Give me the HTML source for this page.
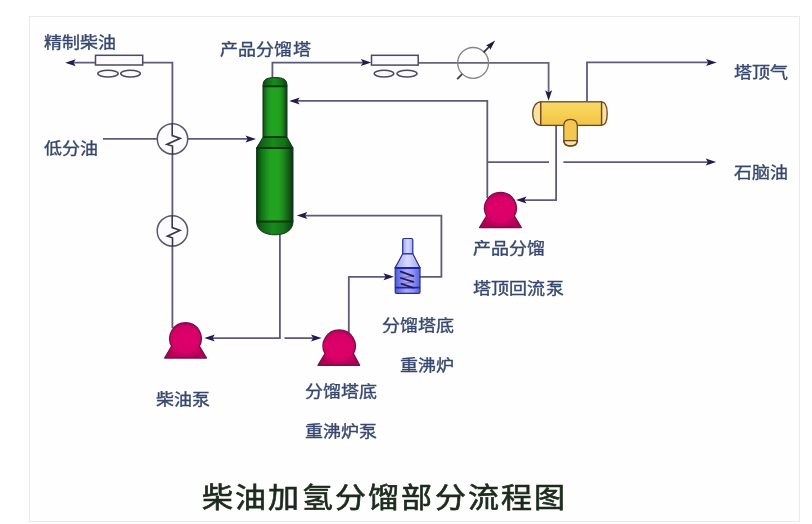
<!DOCTYPE html>
<html lang="zh-CN"><head><meta charset="utf-8">
<title>柴油加氢分馏部分流程图</title>
<style>
html,body{margin:0;padding:0;background:#fff;width:812px;height:524px;overflow:hidden}
svg{position:absolute;left:0;top:0;filter:blur(0.4px)}
.lbl{font-family:"Liberation Sans",sans-serif;font-size:18px;fill:#37476d;font-weight:normal;stroke:#37476d;stroke-width:0.4px}
.ttl{font-family:"Liberation Serif",serif;font-size:31px;letter-spacing:2.1px;fill:#1d2a1d;font-weight:normal;stroke:#1d2a1d;stroke-width:0.7px}
</style></head>
<body>
<svg width="812" height="524" viewBox="0 0 812 524">
<defs>
 <linearGradient id="grn" x1="0" x2="1" y1="0" y2="0">
  <stop offset="0" stop-color="#0b3418"/>
  <stop offset="0.05" stop-color="#0c4e14"/>
  <stop offset="0.13" stop-color="#107016"/>
  <stop offset="0.27" stop-color="#1c921d"/>
  <stop offset="0.37" stop-color="#22a221"/>
  <stop offset="0.6" stop-color="#22a31f"/>
  <stop offset="0.72" stop-color="#1d8c1d"/>
  <stop offset="0.84" stop-color="#156a18"/>
  <stop offset="0.93" stop-color="#0f4c16"/>
  <stop offset="1" stop-color="#16281c"/>
 </linearGradient>
 <linearGradient id="grnN" x1="0" x2="1" y1="0" y2="0">
  <stop offset="0" stop-color="#123c1c"/>
  <stop offset="0.07" stop-color="#166a1a"/>
  <stop offset="0.2" stop-color="#1e941e"/>
  <stop offset="0.35" stop-color="#22a321"/>
  <stop offset="0.65" stop-color="#22a31f"/>
  <stop offset="0.8" stop-color="#1d8c1d"/>
  <stop offset="0.92" stop-color="#145c18"/>
  <stop offset="1" stop-color="#123a1a"/>
 </linearGradient>
 <linearGradient id="grnCap" x1="0" x2="1" y1="0" y2="0">
  <stop offset="0" stop-color="#0c3e14"/>
  <stop offset="0.15" stop-color="#136418"/>
  <stop offset="0.45" stop-color="#1a8a1c"/>
  <stop offset="0.75" stop-color="#157218"/>
  <stop offset="1" stop-color="#0c3a12"/>
 </linearGradient>
 <linearGradient id="yel" x1="0" x2="0" y1="0" y2="1">
  <stop offset="0" stop-color="#f8d868"/>
  <stop offset="0.5" stop-color="#f7d052"/>
  <stop offset="1" stop-color="#f0c24a"/>
 </linearGradient>
 <radialGradient id="mag" cx="0.5" cy="0.5" r="0.5">
  <stop offset="0" stop-color="#e2006c"/>
  <stop offset="0.75" stop-color="#d60066"/>
  <stop offset="1" stop-color="#b00054"/>
 </radialGradient>
 <linearGradient id="blu" x1="0" x2="1" y1="0" y2="0">
  <stop offset="0" stop-color="#4e58d8"/>
  <stop offset="0.45" stop-color="#a4aaff"/>
  <stop offset="0.7" stop-color="#8e96f8"/>
  <stop offset="1" stop-color="#5860e0"/>
 </linearGradient>
 <linearGradient id="lblu" x1="0" x2="1" y1="0" y2="0">
  <stop offset="0" stop-color="#9aa2f0"/>
  <stop offset="0.5" stop-color="#d6daff"/>
  <stop offset="1" stop-color="#a2aaf4"/>
 </linearGradient>
</defs>

<!-- frame -->
<rect x="29.5" y="16.5" width="770" height="505" fill="#fefefe" stroke="#ebe9e6" stroke-width="1"/>

<!-- process lines -->
<g fill="none" stroke="#5f5a7a" stroke-width="1.8">
 <path d="M172.4,328 L172.4,62.7 L73,62.7"/>
 <path d="M103,138.9 L248.2,138.9"/>
 <path d="M272.4,78 L272.4,62.6 L363.5,62.6"/>
 <path d="M418,62.8 L548.6,62.8 L548.6,93" stroke="#66637a"/>
 <path d="M587,101.8 L587,62.4 L708.8,62.4"/>
 <path d="M556.1,125.4 L556.1,200.1 L523.8,200.1"/>
 <path d="M487.3,198 L487.3,100.9 L297,100.9"/>
 <path d="M488,162.1 L549,162.1"/>
 <path d="M563.4,162.1 L708.4,162.1"/>
 <path d="M279.9,234.5 L279.9,338.1 L212.1,338.1"/>
 <path d="M284.5,338.1 L313.7,338.1"/>
 <path d="M348.8,334.7 L348.8,276.8 L386.2,276.8"/>
 <path d="M420,276.8 L441.4,276.8 L441.4,215.6 L304.6,215.6"/>
</g>
<path fill="#231b4e" d="M65.20,62.70 L75.70,59.20 L73.50,62.70 L75.70,66.20 Z M256.00,138.90 L245.50,142.40 L247.70,138.90 L245.50,135.40 Z M371.30,62.60 L360.80,66.10 L363.00,62.60 L360.80,59.10 Z M548.60,100.80 L545.10,90.30 L548.60,92.50 L552.10,90.30 Z M716.60,62.40 L706.10,65.90 L708.30,62.40 L706.10,58.90 Z M516.00,200.10 L526.50,196.60 L524.30,200.10 L526.50,203.60 Z M289.20,100.90 L299.70,97.40 L297.50,100.90 L299.70,104.40 Z M716.20,162.10 L705.70,165.60 L707.90,162.10 L705.70,158.60 Z M204.30,338.10 L214.80,334.60 L212.60,338.10 L214.80,341.60 Z M321.50,338.10 L311.00,341.60 L313.20,338.10 L311.00,334.60 Z M394.00,276.80 L383.50,280.30 L385.70,276.80 L383.50,273.30 Z M296.80,215.60 L307.30,212.10 L305.10,215.60 L307.30,219.10 Z"/>

<!-- air coolers -->
<g stroke="#4e4a5e" stroke-width="1.5" fill="#fbfaff">
 <rect x="95.5" y="55.3" width="47.2" height="9.7"/>
 <ellipse cx="108" cy="73.6" rx="10.2" ry="3.4"/>
 <ellipse cx="130.5" cy="73.6" rx="9.8" ry="3.4"/>
 <rect x="371.5" y="55.3" width="46.7" height="9.8"/>
 <ellipse cx="384" cy="73.6" rx="9.8" ry="3.4"/>
 <ellipse cx="407" cy="73.6" rx="10" ry="3.4"/>
</g>

<!-- heat exchangers -->
<g fill="#fcfbff" stroke="#5c586c" stroke-width="1.5">
 <circle cx="172.5" cy="138.9" r="15.2"/>
 <circle cx="172.4" cy="230.9" r="15.2"/>
</g>
<g fill="none" stroke="#3a3452" stroke-width="1.6" stroke-linejoin="miter">
 <path d="M172.2,123 V135.6 L180.2,138.3 L166.8,144.4 L172.5,146.1 V155"/>
 <path d="M172.2,215 V227.6 L180,230.3 L167.4,236.2 L172.5,237.8 V247"/>
</g>

<!-- cooler circle with diagonal arrow -->
<circle cx="473.1" cy="62.9" r="15.4" fill="none" stroke="#858585" stroke-width="1.3"/>
<path d="M457.2,79.1 L462,74.2" stroke="#3c3a48" stroke-width="1.8" fill="none"/>
<path d="M483.6,52.3 L489.5,46.3" stroke="#2e2a40" stroke-width="1.7" fill="none"/>
<path d="M495.2,40.6 L486.04,45.62 L489.1,46.8 L490.32,49.83 Z" fill="#1f1b3a"/>

<!-- column -->
<g stroke="#0b3a14" stroke-width="1">
 <rect x="263" y="86" width="24" height="51.2" fill="url(#grnN)"/>
 <rect x="256.6" y="148" width="36.4" height="73.5" fill="url(#grn)"/>
 <path d="M263,137.2 L256.6,148 H293 L287,137.2 Z" fill="url(#grnCap)"/>
 <path d="M263,86.3 C263,79.4 266,77.6 275,77.6 C284,77.6 287,79.4 287,86.3 Z" fill="url(#grnCap)"/>
 <path d="M256.6,221.5 C256.6,230.5 265,234.8 275,234.8 C285,234.8 293,230.5 293,221.5 Z" fill="url(#grnCap)"/>
 <path d="M263,86.3 H287 M263,137.2 H287 M256.6,148 H293 M256.6,221.5 H293" stroke="#0a380e" stroke-width="1.8" fill="none"/>
</g>

<!-- reflux drum -->
<g stroke="#6a4520" stroke-width="1.3">
 <path d="M540.8,101.8 C536,101.8 532.7,106.5 532.7,113.6 C532.7,120.7 536,125.4 540.8,125.4 Z" fill="#f8e2a0"/>
 <path d="M601.5,101.8 C605,101.8 607.2,106.5 607.2,113.6 C607.2,120.7 605,125.4 601.5,125.4 Z" fill="#f8e2a0"/>
 <rect x="540.8" y="101.8" width="60.7" height="23.6" fill="url(#yel)"/>
 <path d="M563.8,126 C563.8,121.5 566.5,119.3 570.5,119.3 C574.5,119.3 577.3,121.5 577.3,126 V141 C577.3,144.5 574.5,146 570.5,146 C566.5,146 563.8,144.5 563.8,141 Z" fill="#f4c84e" stroke="none"/>
 <path d="M563.8,140.6 C563.8,144.5 566.5,146 570.5,146 C574.5,146 577.3,144.5 577.3,140.6 Z" fill="#f8e2a0"/>
 <path d="M563.8,126 C563.8,121.5 566.5,119.3 570.5,119.3 C574.5,119.3 577.3,121.5 577.3,126 V141 C577.3,144.5 574.5,146 570.5,146 C566.5,146 563.8,144.5 563.8,141 Z" fill="none" stroke-width="1.2"/>
</g>

<!-- pumps -->
<g fill="url(#mag)" stroke="#76104e" stroke-width="1.4" stroke-linejoin="round">
 <path d="M171.70,346.20 A15.8,15.8 0 1 1 199.30,346.20 L206.4,358 H164.7 Z"/>
 <path d="M325.06,353.70 A16.1,16.1 0 1 1 353.34,353.70 L359.6,365.3 H318 Z"/>
 <path d="M486.54,216.00 A15.9,15.9 0 1 1 514.36,216.00 L521.3,227.5 H479.6 Z"/>
</g>
<path d="M171.70,346.20 A15.8,15.8 0 0 0 199.30,346.20 M325.06,353.70 A16.1,16.1 0 0 0 353.34,353.70 M486.54,216.00 A15.9,15.9 0 0 0 514.36,216.00" fill="none" stroke="#9a0c58" stroke-width="1" opacity="0.6"/>

<!-- reboiler -->
<g stroke="#2c2c8a" stroke-width="1.2">
 <path d="M402.7,253.8 V239.8 Q402.7,238.5 404,238.5 H411.5 Q412.8,238.5 412.8,239.8 V253.8 Z" fill="url(#lblu)"/>
 <path d="M402.7,253.8 H412.8 L420,267.6 H395.2 Z" fill="url(#lblu)"/>
 <path d="M395.2,267.6 H420 V292 Q420,293.3 418.7,293.3 H396.5 Q395.2,293.3 395.2,292 Z" fill="url(#blu)"/>
 <path d="M395.2,268 H420 M395.2,287.6 H420" stroke="#2424a0" stroke-width="1.8" fill="none"/>
 <path d="M413.4,276.1 L400.7,278 M413.4,281.9 L401.4,283.9" fill="none" stroke="#8a70b8" stroke-width="1.3"/>
 <path d="M400.7,271.6 L413.4,276.1 M400.7,278 L413.4,281.9 M401.4,283.9 L413.4,287.8" fill="none" stroke="#261a54" stroke-width="1.7" stroke-linecap="round"/>
</g>

<!-- labels -->
<text class="lbl" transform="translate(44,47.90) scale(1,0.87)">精制柴油</text>
<text class="lbl" transform="translate(44,153.85) scale(1,0.87)">低分油</text>
<text class="lbl" transform="translate(220,55.05) scale(1,0.87)">产品分馏塔</text>
<text class="lbl" transform="translate(734,77.85) scale(1,0.87)">塔顶气</text>
<text class="lbl" transform="translate(734,177.95) scale(1,0.87)">石脑油</text>
<text class="lbl" transform="translate(473,254.15) scale(1,0.87)">产品分馏</text>
<text class="lbl" transform="translate(473,294.35) scale(1,0.87)">塔顶回流泵</text>
<text class="lbl" transform="translate(382,331.05) scale(1,0.87)">分馏塔底</text>
<text class="lbl" transform="translate(400,371.35) scale(1,0.87)">重沸炉</text>
<text class="lbl" transform="translate(156,405.25) scale(1,0.87)">柴油泵</text>
<text class="lbl" transform="translate(304.5,396.95) scale(1,0.87)">分馏塔底</text>
<text class="lbl" transform="translate(304.5,436.75) scale(1,0.87)">重沸炉泵</text>
<text class="ttl" transform="translate(202,508.1) scale(1,0.925)">柴油加氢分馏部分流程图</text>
</svg>
</body></html>
